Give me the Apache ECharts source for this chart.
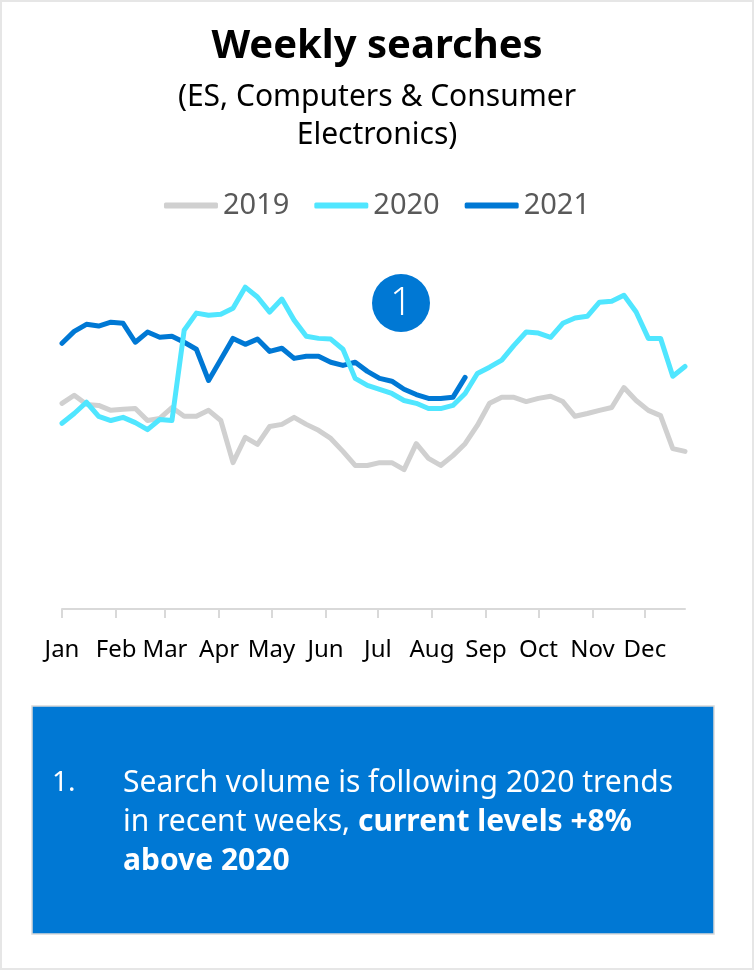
<!DOCTYPE html>
<html>
<head>
<meta charset="utf-8">
<script src="https://cdn.jsdelivr.net/npm/echarts@6/dist/echarts.min.js"></script>
<style>
  html, body { margin: 0; padding: 0; background: #fff; }
  #chart { width: 754px; height: 970px; }
</style>
</head>
<body>
<div id="chart"></div>
<script>
// weekly index values (week 0 = first week of Jan)
var seriesNames = ['2019', '2020', '2021'];
var data2019 = [58.6, 60.9, 58.3, 58.0, 56.6, 56.9, 57.1, 53.7, 54.3, 57.4, 54.9, 54.9, 56.6,
  53.7, 41.7, 48.9, 46.9, 52.0, 52.6, 54.6, 52.6, 50.9, 48.6, 44.9, 40.9, 40.9, 41.7, 41.7,
  39.7, 47.1, 42.9, 40.9, 43.7, 47.1, 52.3, 58.6, 60.3, 60.3, 59.1, 60.0, 60.6, 59.1, 54.9,
  55.7, 56.6, 57.4, 63.1, 59.4, 56.6, 55.1, 45.7, 44.9];
var data2020 = [52.9, 55.7, 58.9, 54.9, 53.7, 54.6, 53.1, 51.1, 54.0, 53.7, 79.4, 84.3, 83.7,
  84.0, 85.7, 91.7, 88.9, 84.6, 88.3, 82.3, 77.7, 77.1, 76.9, 74.0, 65.7, 63.7, 62.6, 61.4,
  59.4, 58.6, 57.1, 57.1, 58.0, 61.4, 67.1, 68.9, 70.9, 75.1, 78.9, 78.6, 77.4, 81.4, 82.9,
  83.4, 87.4, 87.7, 89.4, 84.6, 77.1, 77.1, 66.3, 69.1];
var data2021 = [75.7, 79.1, 81.1, 80.6, 81.7, 81.4, 76.0, 78.9, 77.4, 77.7, 76.0, 74.0, 65.1,
  71.1, 77.1, 75.4, 76.9, 73.4, 74.3, 71.4, 72.0, 72.0, 70.3, 69.4, 70.3, 67.7, 65.7, 64.9,
  62.6, 61.1, 60.0, 60.0, 60.3, 66.0];

// month ticks: day of year where each month starts
var monthNames = ['Jan', 'Feb', 'Mar', 'Apr', 'May', 'Jun', 'Jul', 'Aug', 'Sep', 'Oct', 'Nov', 'Dec'];
var monthStartDay = [0, 31, 59, 90, 120, 151, 181, 212, 243, 273, 304, 334];

var colors = ['#D0D0D0', '#50E6FF', '#0078D4'];
var font = 'Noto Sans';

var monthWeeks = monthStartDay.map(function (d) { return d / 7; });

function toPoints(arr) {
  return arr.map(function (v, i) { return [i, v]; });
}

var chart = echarts.init(document.getElementById('chart'));

var option = {
  backgroundColor: '#fff',
  title: {
    text: 'Weekly searches',
    subtext: '(ES, Computers & Consumer\nElectronics)',
    left: 'center',
    top: 22,
    itemGap: 11,
    textStyle: { fontFamily: font, fontSize: 40, fontWeight: 'bold', color: '#000' },
    subtextStyle: { fontFamily: font, fontSize: 30, color: '#000', lineHeight: 38, align: 'center' }
  },
  legend: {
    top: 186,
    left: 'center',
    data: seriesNames,
    icon: 'roundRect',
    itemWidth: 54,
    itemHeight: 6,
    itemGap: 25,
    textStyle: { fontFamily: font, fontSize: 29, color: '#595959' }
  },
  grid: { left: 62, width: 623, top: 258, height: 351 },
  xAxis: {
    type: 'value',
    min: 0,
    max: 51,
    splitLine: { show: false },
    axisLine: { lineStyle: { color: '#d9d9d9', width: 2 } },
    axisTick: { show: true, customValues: monthWeeks, length: 9, lineStyle: { color: '#d9d9d9', width: 2 } },
    axisLabel: {
      customValues: monthWeeks,
      margin: 29,
      fontFamily: font,
      fontSize: 24,
      color: '#000',
      formatter: function (v) {
        var best = 0;
        for (var i = 0; i < monthWeeks.length; i++) {
          if (Math.abs(monthWeeks[i] - v) < Math.abs(monthWeeks[best] - v)) best = i;
        }
        return monthNames[best];
      }
    }
  },
  yAxis: { type: 'value', min: 0, max: 100, show: false },
  series: [
    { name: '2019', type: 'line', data: toPoints(data2019), z: 2 },
    { name: '2020', type: 'line', data: toPoints(data2020), z: 4 },
    { name: '2021', type: 'line', data: toPoints(data2021), z: 3 }
  ].map(function (s, i) {
    s.symbol = 'none';
    s.color = colors[i];
    s.lineStyle = { width: 5, color: colors[i], cap: 'round', join: 'round' };
    s.emphasis = { disabled: true };
    return s;
  }),
  graphic: [
    // outer frame
    { type: 'rect', shape: { x: 1, y: 1, width: 752, height: 968 }, style: { fill: null, stroke: '#e6e6e6', lineWidth: 2 }, silent: true },
    // callout marker
    { type: 'circle', shape: { cx: 401, cy: 303, r: 29 }, style: { fill: '#0078D4' }, z: 10 },
    {
      type: 'text', x: 401, y: 304, z: 11,
      style: { text: '1', fill: '#fff', fontFamily: font, fontSize: 38, fontWeight: 300, align: 'center', verticalAlign: 'middle' }
    },
    // comment box
    { type: 'rect', shape: { x: 32, y: 706, width: 682, height: 228 }, style: { fill: '#0078D4', stroke: '#d9d9d9', lineWidth: 1.5 } },
    {
      type: 'text', x: 52, y: 783, z: 11,
      style: { text: '1.', fill: '#fff', fontFamily: font, fontSize: 28, verticalAlign: 'middle' }
    },
    {
      type: 'text', x: 123, y: 764, z: 11,
      style: {
        text: 'Search volume is following 2020 trends\nin recent weeks, {b|current levels +8%}\n{b|above 2020}',
        fill: '#fff',
        fontFamily: font,
        fontSize: 30,
        lineHeight: 39,
        rich: {
          b: { fontFamily: font, fontSize: 30, fontWeight: 'bold', fill: '#fff', lineHeight: 39 }
        }
      }
    }
  ]
};

chart.setOption(option);
</script>
</body>
</html>
